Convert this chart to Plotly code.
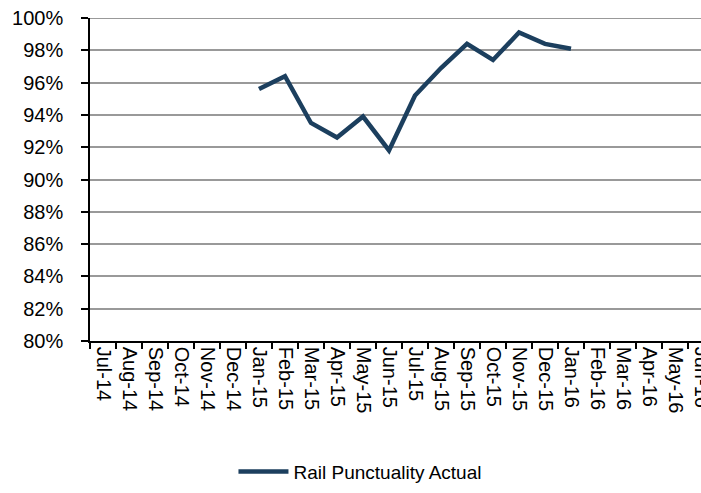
import plotly.graph_objects as go

months = ["Jul-14", "Aug-14", "Sep-14", "Oct-14", "Nov-14", "Dec-14",
          "Jan-15", "Feb-15", "Mar-15", "Apr-15", "May-15", "Jun-15",
          "Jul-15", "Aug-15", "Sep-15", "Oct-15", "Nov-15", "Dec-15",
          "Jan-16", "Feb-16", "Mar-16", "Apr-16", "May-16", "Jun-16"]
punctuality = [None, None, None, None, None, None,
               0.956, 0.964, 0.935, 0.926, 0.939, 0.918,
               0.952, 0.969, 0.984, 0.974, 0.991, 0.984,
               0.981, None, None, None, None, None]
y_ticks = [0.80, 0.82, 0.84, 0.86, 0.88, 0.90, 0.92, 0.94, 0.96, 0.98, 1.00]

FONT = "Liberation Sans, Arial, sans-serif"
GRID = "#999999"

fig = go.Figure()
fig.add_trace(go.Scatter(
    x=months, y=punctuality, mode="lines", name="Rail Punctuality Actual",
    line=dict(color="#1C3F5E", width=4.5), connectgaps=False,
))
# top gridline (at the last tick value) drawn explicitly, as plotly drops it at the range edge
fig.add_hline(y=y_ticks[-1], line=dict(color=GRID, width=1.8), layer="below")

fig.update_layout(
    width=701, height=493,
    margin=dict(l=90, r=0, t=18, b=152, autoexpand=False),
    paper_bgcolor="white", plot_bgcolor="white",
    font=dict(family=FONT, size=20, color="black"),
    showlegend=True,
    legend=dict(orientation="h", xref="container", x=0.5135, xanchor="center",
                yref="container", y=0.005, yanchor="bottom",
                font=dict(size=19), itemwidth=50),
)
fig.update_xaxes(
    type="category", categoryorder="array", categoryarray=months,
    range=[-0.5, 23.0], tickangle=90, tickson="boundaries",
    ticks="outside", ticklen=6, tickcolor="black", tickwidth=1.5,
    showline=True, linecolor="black", linewidth=1.5,
    showgrid=False, tickfont=dict(size=20), automargin=False,
    ticklabeloverflow="allow",
)
fig.update_yaxes(
    range=[0.80, 1.0], tickvals=y_ticks, tickformat=".0%",
    ticks="outside", ticklen=7, tickcolor="black", tickwidth=1.5,
    showline=True, linecolor="black", linewidth=1.5,
    showgrid=True, gridcolor=GRID, gridwidth=1.8,
    zeroline=False, tickfont=dict(size=20), ticklabelstandoff=14,
    automargin=False, ticklabeloverflow="allow",
)

fig.write_html(
    "out.html",
    config={"displayModeBar": False},
    post_script="document.body.style.margin='0';document.body.style.overflow='hidden';",
)
